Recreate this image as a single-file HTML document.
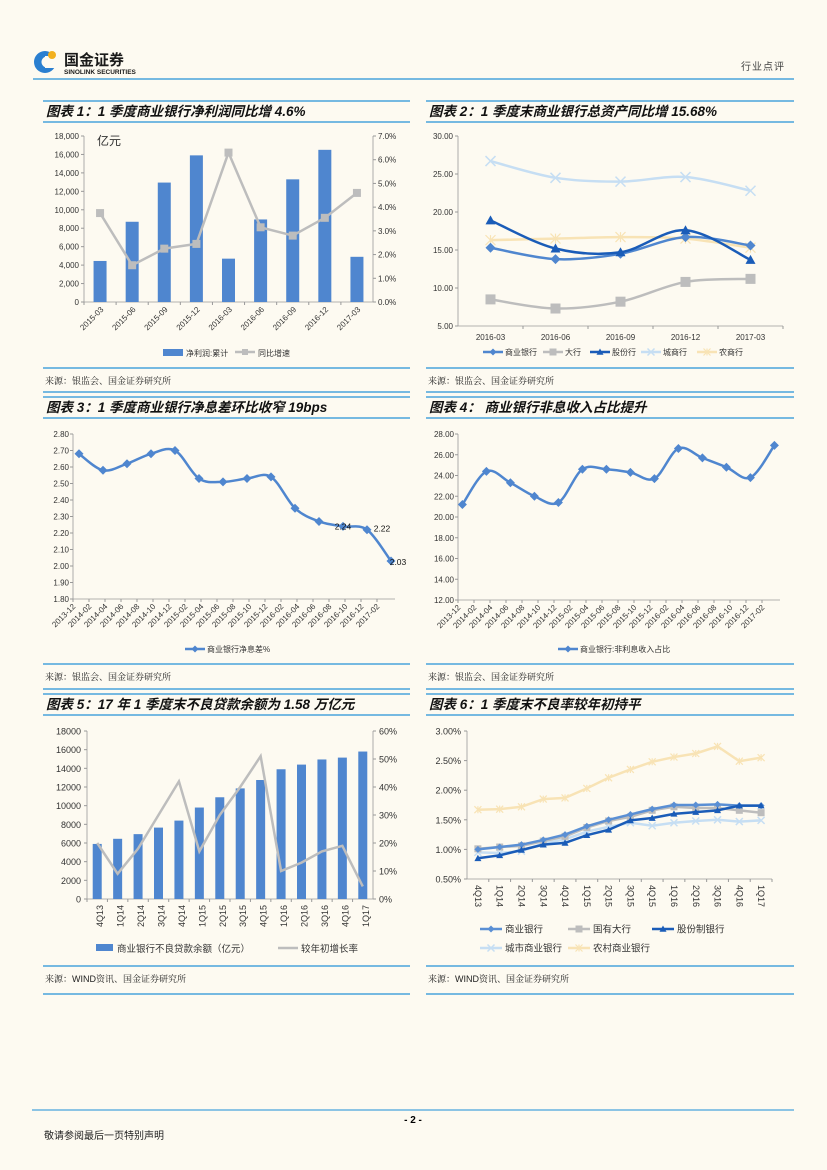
<!DOCTYPE html>
<html><head><meta charset="utf-8">
<style>
html,body{margin:0;padding:0;background:#fdfaf1;}
svg{display:block;font-family:"Liberation Sans","Noto Sans CJK SC",sans-serif;}
.t{font-size:8px;fill:#333;}
.ttl{font-size:13.5px;font-weight:bold;font-style:italic;fill:#111;}
.src{font-size:9px;fill:#222;font-family:"Liberation Sans","Noto Serif CJK SC",serif;}
</style></head>
<body>
<svg id="pg" width="827" height="1170" viewBox="0 0 827 1170" xmlns="http://www.w3.org/2000/svg">
<g>
  <circle cx="45" cy="62" r="11" fill="#2a7fd0"/>
  <circle cx="47" cy="62" r="5.5" fill="#fdfaf1"/>
  <rect x="45" y="56" width="14" height="12" fill="#fdfaf1"/>
  <circle cx="52" cy="55" r="4" fill="#f2b01e"/>
  <text x="64" y="65" style="font-size:15px;font-weight:bold;fill:#1a1a1a">国金证券</text>
  <text x="64" y="74" style="font-size:6.5px;font-weight:bold;fill:#1a1a1a">SINOLINK SECURITIES</text>
  <text x="785" y="70" text-anchor="end" style="font-size:10px;fill:#444;letter-spacing:1px">行业点评</text>
  <line x1="33" y1="79" x2="794" y2="79" stroke="#4aa3dc" stroke-width="1.5"/>
</g>
<g id="frame"></g>
<g id="charts"></g>
<g>
  <line x1="32" y1="1110" x2="794" y2="1110" stroke="#4aa3dc" stroke-width="1.3"/>
  <text x="413" y="1123" text-anchor="middle" style="font-size:10px;font-weight:bold">- 2 -</text>
  <text x="44" y="1139" style="font-size:10px;fill:#222">敬请参阅最后一页特别声明</text>
</g>
</svg>
<script>
// ===== chart data =====
const c1Cats=['2015-03','2015-06','2015-09','2015-12','2016-03','2016-06','2016-09','2016-12','2017-03'];
const c1Profit=[4450,8700,12950,15900,4700,8950,13300,16500,4900];
const c1Growth=[3.75,1.55,2.25,2.45,6.3,3.15,2.8,3.55,4.6];
const c1LeftTicks=['0','2,000','4,000','6,000','8,000','10,000','12,000','14,000','16,000','18,000'];
const c1RightTicks=['0.0%','1.0%','2.0%','3.0%','4.0%','5.0%','6.0%','7.0%'];

const c2Cats=['2016-03','2016-06','2016-09','2016-12','2017-03'];
const c2Comm=[15.3,13.8,14.5,16.7,15.6];
const c2Big=[8.5,7.3,8.2,10.8,11.2];
const c2Joint=[18.9,15.2,14.7,17.6,13.7];
const c2City=[26.7,24.5,24.0,24.6,22.8];
const c2Rural=[16.3,16.5,16.7,16.5,15.3];
const c2Ticks=['5.00','10.00','15.00','20.00','25.00','30.00'];

const c3Labels=['2013-12','2014-02','2014-04','2014-06','2014-08','2014-10','2014-12','2015-02','2015-04','2015-06','2015-08','2015-10','2015-12','2016-02','2016-04','2016-06','2016-08','2016-10','2016-12','2017-02'];
const c3Nim=[2.68,2.58,2.62,2.68,2.70,2.53,2.51,2.53,2.54,2.35,2.27,2.24,2.22,2.03];
const c3Ticks=['1.80','1.90','2.00','2.10','2.20','2.30','2.40','2.50','2.60','2.70','2.80'];

const c4Labels=c3Labels;
const c4NonInt=[21.2,24.4,23.3,22.0,21.4,24.6,24.6,24.3,23.7,26.6,25.7,24.8,23.8,26.9];
const c4Ticks=['12.00','14.00','16.00','18.00','20.00','22.00','24.00','26.00','28.00'];

const c5Cats=['4Q13','1Q14','2Q14','3Q14','4Q14','1Q15','2Q15','3Q15','4Q15','1Q16','2Q16','3Q16','4Q16','1Q17'];
const c5Npl=[5900,6450,6950,7650,8400,9800,10900,11850,12750,13900,14400,14950,15150,15800];
const c5Growth=[20,9,18,30,42,17,30,40,51,10,13,17,19,4.5];
const c5LeftTicks=['0','2000','4000','6000','8000','10000','12000','14000','16000','18000'];
const c5RightTicks=['0%','10%','20%','30%','40%','50%','60%'];

const c6Cats=c5Cats;
const c6Comm=[1.00,1.04,1.08,1.16,1.25,1.39,1.50,1.59,1.68,1.75,1.75,1.76,1.74,1.74];
const c6Big=[1.01,1.04,1.06,1.14,1.22,1.37,1.48,1.55,1.66,1.72,1.70,1.70,1.66,1.62];
const c6Joint=[0.85,0.90,0.99,1.08,1.11,1.24,1.33,1.49,1.53,1.60,1.63,1.66,1.74,1.74];
const c6City=[0.95,0.94,0.97,1.10,1.17,1.30,1.38,1.45,1.40,1.45,1.48,1.50,1.47,1.49];
const c6Rural=[1.67,1.68,1.72,1.85,1.87,2.03,2.21,2.35,2.48,2.56,2.62,2.74,2.49,2.55];
const c6Ticks=['0.50%','1.00%','1.50%','2.00%','2.50%','3.00%'];

// ===== helpers =====
const NS='http://www.w3.org/2000/svg';
function mk(tag,attrs,parent){const e=document.createElementNS(NS,tag);for(const k in attrs)e.setAttribute(k,attrs[k]);parent.appendChild(e);return e;}
function lin(d0,d1,r0,r1){return v=>r0+(v-d0)*(r1-r0)/(d1-d0);}
function txt(s,x,y,parent,anchor,cls,extra){const e=mk('text',Object.assign({x:x,y:y,'text-anchor':anchor||'start',class:cls||'t'},extra||{}),parent);e.textContent=s;return e;}
function smooth(pts){let d='M'+pts[0][0]+','+pts[0][1];for(let i=0;i<pts.length-1;i++){const p0=pts[i-1]||pts[i],p1=pts[i],p2=pts[i+1],p3=pts[i+2]||p2;const c1x=p1[0]+(p2[0]-p0[0])/6,c1y=p1[1]+(p2[1]-p0[1])/6,c2x=p2[0]-(p3[0]-p1[0])/6,c2y=p2[1]-(p3[1]-p1[1])/6;d+=' C'+c1x+','+c1y+' '+c2x+','+c2y+' '+p2[0]+','+p2[1];}return d;}
function marker(type,x,y,color,g,s){s=s||3.5;
 if(type==='diamond')return mk('polygon',{points:`${x},${y-s} ${x+s},${y} ${x},${y+s} ${x-s},${y}`,fill:color},g);
 if(type==='square')return mk('rect',{x:x-s,y:y-s,width:2*s,height:2*s,fill:color},g);
 if(type==='tri')return mk('polygon',{points:`${x},${y-s} ${x+s},${y+s*0.8} ${x-s},${y+s*0.8}`,fill:color},g);
 if(type==='x'){return mk('path',{d:`M${x-s},${y-s}L${x+s},${y+s}M${x+s},${y-s}L${x-s},${y+s}`,stroke:color,'stroke-width':1.5,fill:'none'},g);}
 if(type==='star'){return mk('path',{d:`M${x-s},${y-s}L${x+s},${y+s}M${x+s},${y-s}L${x-s},${y+s}M${x},${y-s}L${x},${y+s}`,stroke:color,'stroke-width':1.2,fill:'none'},g);}
}
const root=document.getElementById('charts');
const frame=document.getElementById('frame');

const panels=[
 {x1:43,x2:410,top:101,ttl:'图表 1：1 季度商业银行净利润同比增 4.6%',srcLine:368,src:'来源：银监会、国金证券研究所',bot:392},
 {x1:426,x2:794,top:101,ttl:'图表 2：1 季度末商业银行总资产同比增 15.68%',srcLine:368,src:'来源：银监会、国金证券研究所',bot:392},
 {x1:43,x2:410,top:397,ttl:'图表 3：1 季度商业银行净息差环比收窄 19bps',srcLine:664,src:'来源：银监会、国金证券研究所',bot:689},
 {x1:426,x2:794,top:397,ttl:'图表 4： 商业银行非息收入占比提升',srcLine:664,src:'来源：银监会、国金证券研究所',bot:689},
 {x1:43,x2:410,top:694,ttl:'图表 5：17 年 1 季度末不良贷款余额为 1.58 万亿元',srcLine:966,src:'来源：WIND资讯、国金证券研究所',bot:994},
 {x1:426,x2:794,top:694,ttl:'图表 6：1 季度末不良率较年初持平',srcLine:966,src:'来源：WIND资讯、国金证券研究所',bot:994}
];
panels.forEach((p,i)=>{
 const g=mk('g',{},frame);
 
 
 [p.top,p.top+21,p.srcLine,p.bot].forEach(y=>mk('line',{x1:p.x1,y1:y,x2:p.x2,y2:y,stroke:'#4aa3dc','stroke-width':1.5},g));
 const t=txt(p.ttl,p.x1+3,p.top+15,g,'start','ttl');
 
 
 const s=txt(p.src,p.x1+2,p.srcLine+16,g,'start','src');
 
 
});

function axisLineY(g,x,y0,y1){mk('line',{x1:x,y1:y0,x2:x,y2:y1,stroke:'#999','stroke-width':0.8},g);}
function axisLineX(g,y,x0,x1){mk('line',{x1:x0,y1:y,x2:x1,y2:y,stroke:'#999','stroke-width':0.8},g);}

// ===== Chart 1 =====
(function(){
 const g=mk('g',{},root);
 
 
 const L=84,R=373,T=136,B=302;
 const y=lin(0,18000,B,T), y2=lin(0,7,B,T);
 const bw=(R-L)/c1Cats.length;
 axisLineY(g,L,T,B);axisLineY(g,R,T,B);axisLineX(g,B,L,R);
 c1LeftTicks.forEach((s,i)=>{const v=i*2000;mk('line',{x1:L-3,y1:y(v),x2:L,y2:y(v),stroke:'#999'},g);const t=txt(s,L-5,y(v)+3,g,'end');});
 c1RightTicks.forEach((s,i)=>{mk('line',{x1:R,y1:y2(i),x2:R+3,y2:y2(i),stroke:'#999'},g);const t=txt(s,R+5,y2(i)+3,g,'start');});
 const u=txt('亿元',97,145,g,'start','t',{style:'font-size:12px'});
 c1Cats.forEach((c,i)=>{const cx=L+bw*(i+0.5);
  const b=mk('rect',{x:cx-6.5,y:y(c1Profit[i]),width:13,height:B-y(c1Profit[i]),fill:'#4f86cf'},g);
  
  mk('line',{x1:L+bw*i,y1:B,x2:L+bw*i,y2:B+3,stroke:'#999'},g);
  const t=txt(c,cx+4,B+8,g,'end','t',{transform:`rotate(-45 ${cx+4} ${B+8})`});
 });
 const pts=c1Cats.map((c,i)=>[L+bw*(i+0.5),y2(c1Growth[i])]);
 const ln=mk('polyline',{points:pts.map(p=>p.join(',')).join(' '),fill:'none',stroke:'#bdbdbd','stroke-width':2.5},g);
 
 pts.forEach(p=>{const m=marker('square',p[0],p[1],'#bdbdbd',g,4);});
 const lg=mk('g',{},g);
 mk('rect',{x:163,y:349,width:20,height:7,fill:'#4f86cf'},lg);txt('净利润:累计',186,356,lg);
 mk('line',{x1:235,y1:352,x2:255,y2:352,stroke:'#bdbdbd','stroke-width':2.5},lg);marker('square',245,352,'#bdbdbd',lg,3);txt('同比增速',258,356,lg);
})();

// ===== Chart 2 =====
(function(){
 const g=mk('g',{},root);
 
 
 const L=458,R=783,T=136,B=326;
 const y=lin(5,30,B,T); const bw=(R-L)/c2Cats.length;
 axisLineY(g,L,T,B);axisLineX(g,B,L,R);
 c2Ticks.forEach((s,i)=>{const v=5+i*5;mk('line',{x1:L-3,y1:y(v),x2:L,y2:y(v),stroke:'#999'},g);const t=txt(s,L-5,y(v)+3,g,'end');});
 c2Cats.forEach((c,i)=>{mk('line',{x1:L+bw*(i+1),y1:B,x2:L+bw*(i+1),y2:B+3,stroke:'#999'},g);const t=txt(c,L+bw*(i+0.5),B+14,g,'middle');});
 const ser=[[c2Big,'#bdbdbd','square','大行'],[c2City,'#c6def3','x','城商行'],[c2Rural,'#f8e3b5','star','农商行'],[c2Comm,'#4f86cf','diamond','商业银行'],[c2Joint,'#1a5cb8','tri','股份行']];
 ser.forEach(s=>{const pts=s[0].map((v,i)=>[L+bw*(i+0.5),y(v)]);
  const p=mk('path',{d:smooth(pts),fill:'none',stroke:s[1],'stroke-width':2.5},g);
  pts.forEach(q=>{const m=marker(s[2],q[0],q[1],s[1],g,5);});
 });
 const lg=mk('g',{},g);
 const order=[['#4f86cf','diamond','商业银行',483],['#bdbdbd','square','大行',543],['#1a5cb8','tri','股份行',590],['#c6def3','x','城商行',641],['#f8e3b5','star','农商行',697]];
 order.forEach(o=>{mk('line',{x1:o[3],y1:352,x2:o[3]+20,y2:352,stroke:o[0],'stroke-width':2.5},lg);marker(o[1],o[3]+10,352,o[0],lg,3.5);txt(o[2],o[3]+22,355,lg);});
})();

// ===== date-axis line charts (3 & 4) =====
function dateChart(name,L,T,B,R,min,max,step,ticks,labels,vals,legend,off,lx){
 const g=mk('g',{},root);
 
 
 const y=lin(min,max,B,T); const mx=m=>L+m*8;
 axisLineY(g,L,T,B);axisLineX(g,B,L,R);
 ticks.forEach((s,i)=>{const v=min+i*step;mk('line',{x1:L-3,y1:y(v),x2:L,y2:y(v),stroke:'#999'},g);const t=txt(s,L-4,y(v)+3,g,'end');});
 labels.forEach((s,i)=>{const x=mx(i*2);mk('line',{x1:x,y1:B,x2:x,y2:B+3,stroke:'#999'},g);const t=txt(s,x+3,B+8,g,'end','t',{transform:`rotate(-45 ${x+3} ${B+8})`});});
 const pts=vals.map((v,i)=>[mx(i*3+off),y(v)]);
 const p=mk('path',{d:smooth(pts),fill:'none',stroke:'#4f86cf','stroke-width':2.5},g);
 pts.forEach(q=>{const m=marker('diamond',q[0],q[1],'#4f86cf',g,4.5);});
 const lg=mk('g',{},g);
 mk('line',{x1:lx,y1:649,x2:lx+20,y2:649,stroke:'#4f86cf','stroke-width':2.5},lg);marker('diamond',lx+10,649,'#4f86cf',lg,3.5);txt(legend,lx+22,652,lg);
 return {g:g,pts:pts};
}
const c3=dateChart('chart-net-interest-margin',73,434,599,395,1.8,2.8,0.1,c3Ticks,c3Labels,c3Nim,'商业银行净息差%',0.75,185);
[[11,0,3],[12,15,2],[13,7,4]].forEach(d=>{const i=d[0];const t=txt(c3Nim[i].toFixed(2),c3.pts[i][0]+d[1],c3.pts[i][1]+d[2],c3.g,'middle','t',{style:'font-size:8.5px;fill:#111'});});
dateChart('chart-non-interest-income',458,434,600,780,12,28,2,c4Ticks,c4Labels,c4NonInt,'商业银行:非利息收入占比',0.55,558);

// ===== Chart 5 =====
(function(){
 const g=mk('g',{},root);
 
 
 const L=87,R=373,T=731,B=899;
 const y=lin(0,18000,B,T), y2=lin(0,60,B,T); const bw=(R-L)/c5Cats.length;
 axisLineY(g,L,T,B);axisLineY(g,R,T,B);axisLineX(g,B,L,R);
 c5LeftTicks.forEach((s,i)=>{const v=i*2000;mk('line',{x1:L-3,y1:y(v),x2:L,y2:y(v),stroke:'#999'},g);const t=txt(s,L-6,y(v)+3.5,g,'end','t',{style:'font-size:9px'});});
 c5RightTicks.forEach((s,i)=>{const v=i*10;mk('line',{x1:R,y1:y2(v),x2:R+3,y2:y2(v),stroke:'#999'},g);const t=txt(s,R+6,y2(v)+3.5,g,'start','t',{style:'font-size:9px'});});
 c5Cats.forEach((c,i)=>{const cx=L+bw*(i+0.5);
  const b=mk('rect',{x:cx-4.5,y:y(c5Npl[i]),width:9,height:B-y(c5Npl[i]),fill:'#4f86cf'},g);
  mk('line',{x1:L+bw*i,y1:B,x2:L+bw*i,y2:B+3,stroke:'#999'},g);
  const t=txt(c,cx+3,B+6,g,'end','t',{style:'font-size:9px',transform:`rotate(-90 ${cx+3} ${B+6}) translate(0 3)`});
 });
 const pts=c5Growth.map((v,i)=>(L+bw*(i+0.5))+','+y2(v));
 const ln=mk('polyline',{points:pts.join(' '),fill:'none',stroke:'#bdbdbd','stroke-width':2.5},g);
 const lg=mk('g',{},g);
 mk('rect',{x:96,y:944,width:17,height:7,fill:'#4f86cf'},lg);txt('商业银行不良贷款余额（亿元）',117,952,lg,'start','t',{style:'font-size:9.5px'});
 mk('line',{x1:278,y1:948,x2:298,y2:948,stroke:'#bdbdbd','stroke-width':2.5},lg);txt('较年初增长率',301,952,lg,'start','t',{style:'font-size:9.5px'});
})();

// ===== Chart 6 =====
(function(){
 const g=mk('g',{},root);
 
 
 const L=467,R=772,T=731,B=879;
 const y=lin(0.5,3.0,B,T); const bw=(R-L)/c6Cats.length;
 axisLineY(g,L,T,B);axisLineX(g,B,L,R);
 c6Ticks.forEach((s,i)=>{const v=0.5+i*0.5;mk('line',{x1:L-3,y1:y(v),x2:L,y2:y(v),stroke:'#999'},g);const t=txt(s,L-6,y(v)+3.5,g,'end','t',{style:'font-size:9px'});});
 c6Cats.forEach((c,i)=>{const cx=L+bw*(i+0.5);mk('line',{x1:L+bw*(i+1),y1:B,x2:L+bw*(i+1),y2:B+3,stroke:'#999'},g);
  const t=txt(c,cx-3,B+6,g,'start','t',{style:'font-size:9px',transform:`rotate(90 ${cx-3} ${B+6})`});});
 const ser=[[c6Rural,'#f8e3b5','star','农村商业银行'],[c6City,'#c6def3','x','城市商业银行'],[c6Big,'#bdbdbd','square','国有大行'],[c6Comm,'#5a8fd4','diamond','商业银行'],[c6Joint,'#1a5cb8','tri','股份制银行']];
 ser.forEach(s=>{const pts=s[0].map((v,i)=>[L+bw*(i+0.5),y(v)]);
  const p=mk('polyline',{points:pts.map(q=>q.join(',')).join(' '),fill:'none',stroke:s[1],'stroke-width':2.5},g);
  pts.forEach(q=>{const m=marker(s[2],q[0],q[1],s[1],g,3.5);});
 });
 const lg=mk('g',{},g);
 [[480,929,'#5a8fd4','diamond','商业银行'],[568,929,'#bdbdbd','square','国有大行'],[652,929,'#1a5cb8','tri','股份制银行'],[480,948,'#c6def3','x','城市商业银行'],[568,948,'#f8e3b5','star','农村商业银行']].forEach(o=>{
  mk('line',{x1:o[0],y1:o[1],x2:o[0]+22,y2:o[1],stroke:o[2],'stroke-width':2.5},lg);marker(o[3],o[0]+11,o[1],o[2],lg,3.5);txt(o[4],o[0]+25,o[1]+3.5,lg,'start','t',{style:'font-size:9.5px'});});
})();
</script>
</body></html>
